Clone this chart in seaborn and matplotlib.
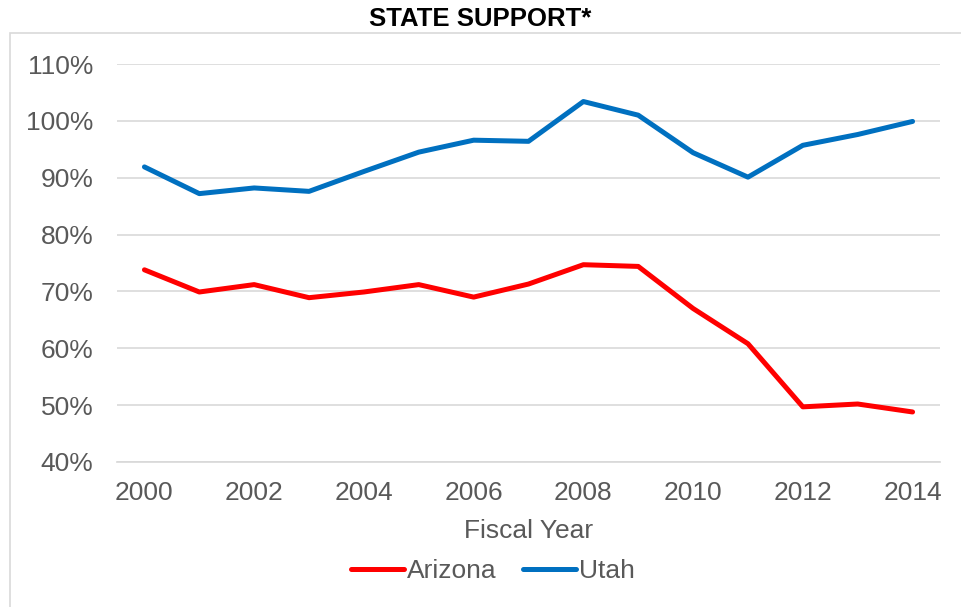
import matplotlib
matplotlib.use("Agg")
import matplotlib.pyplot as plt
import matplotlib.patches as mpatches
from matplotlib.ticker import FuncFormatter
import seaborn as sns
import pandas as pd

years = list(range(2000, 2015))
arizona = [73.8, 69.9, 71.2, 68.9, 69.9, 71.2, 69.0, 71.3, 74.7, 74.4, 67.0, 60.8, 49.7, 50.2, 48.8]
utah = [91.9, 87.2, 88.2, 87.6, 91.1, 94.5, 96.6, 96.4, 103.4, 101.0, 94.4, 90.1, 95.7, 97.6, 99.9]
series_names = ["Arizona", "Utah"]
colors = {"Arizona": "#FF0000", "Utah": "#0070C0"}
yticks = [40, 50, 60, 70, 80, 90, 100, 110]
xticks = list(range(2000, 2015, 2))

df = pd.DataFrame({
    "Fiscal Year": years * 2,
    "value": arizona + utah,
    "State": ["Arizona"] * len(years) + ["Utah"] * len(years),
})

sns.set_theme(style="white")
plt.rcParams["font.family"] = ["Liberation Sans", "DejaVu Sans"]

fs = 19
fig = plt.figure(figsize=(9.61, 6.07), dpi=100)
ax = fig.add_axes([117/961, 1-462/607, (940-117)/961, (462-64)/607])

# outer chart border
fig.patches.append(mpatches.Rectangle((10/961, -0.01), 1.0, 1-33/607+0.01,
                                      transform=fig.transFigure, fill=False,
                                      edgecolor="#D9D9D9", linewidth=1.2))

sns.lineplot(data=df, x="Fiscal Year", y="value", hue="State", hue_order=series_names,
             palette=colors, linewidth=3.6, ax=ax, legend=False,
             solid_capstyle="round", solid_joinstyle="round")

ax.set_xlim(1999.5, 2014.5)
ax.set_ylim(40, 110)
ax.set_yticks(yticks)
ax.set_xticks(xticks)
ax.yaxis.set_major_formatter(FuncFormatter(lambda v, p: f"{int(v)}%"))
ax.grid(axis="y", color="#D9D9D9", linewidth=1.2)
ax.grid(axis="x", visible=False)
for s in ax.spines.values():
    s.set_visible(False)
ax.spines["bottom"].set_visible(True)
ax.spines["bottom"].set_color("#D9D9D9")
ax.set_axisbelow(True)
ax.tick_params(axis="both", labelsize=fs, colors="#595959", length=0)
ax.tick_params(axis="x", pad=14)
ax.tick_params(axis="y", pad=17)
ax.set_ylabel("")
ax.set_xlabel("Fiscal Year", fontsize=fs, color="#595959", labelpad=10)

fig.text(0.5, 1-19/607, "STATE SUPPORT*", ha="center", va="center",
         fontsize=18.5, fontweight="bold", color="#000000")

handles = [plt.Line2D([0], [0], color=colors[n], linewidth=3.6, solid_capstyle="round") for n in series_names]
fig.legend(handles, series_names, loc="center", bbox_to_anchor=(493/961, 1-571/607),
           ncol=2, frameon=False, fontsize=fs, labelcolor="#595959",
           handlelength=2.0, handletextpad=0.12, columnspacing=1.0,
           borderpad=0, borderaxespad=0)

fig.savefig("out.png", dpi=100)
